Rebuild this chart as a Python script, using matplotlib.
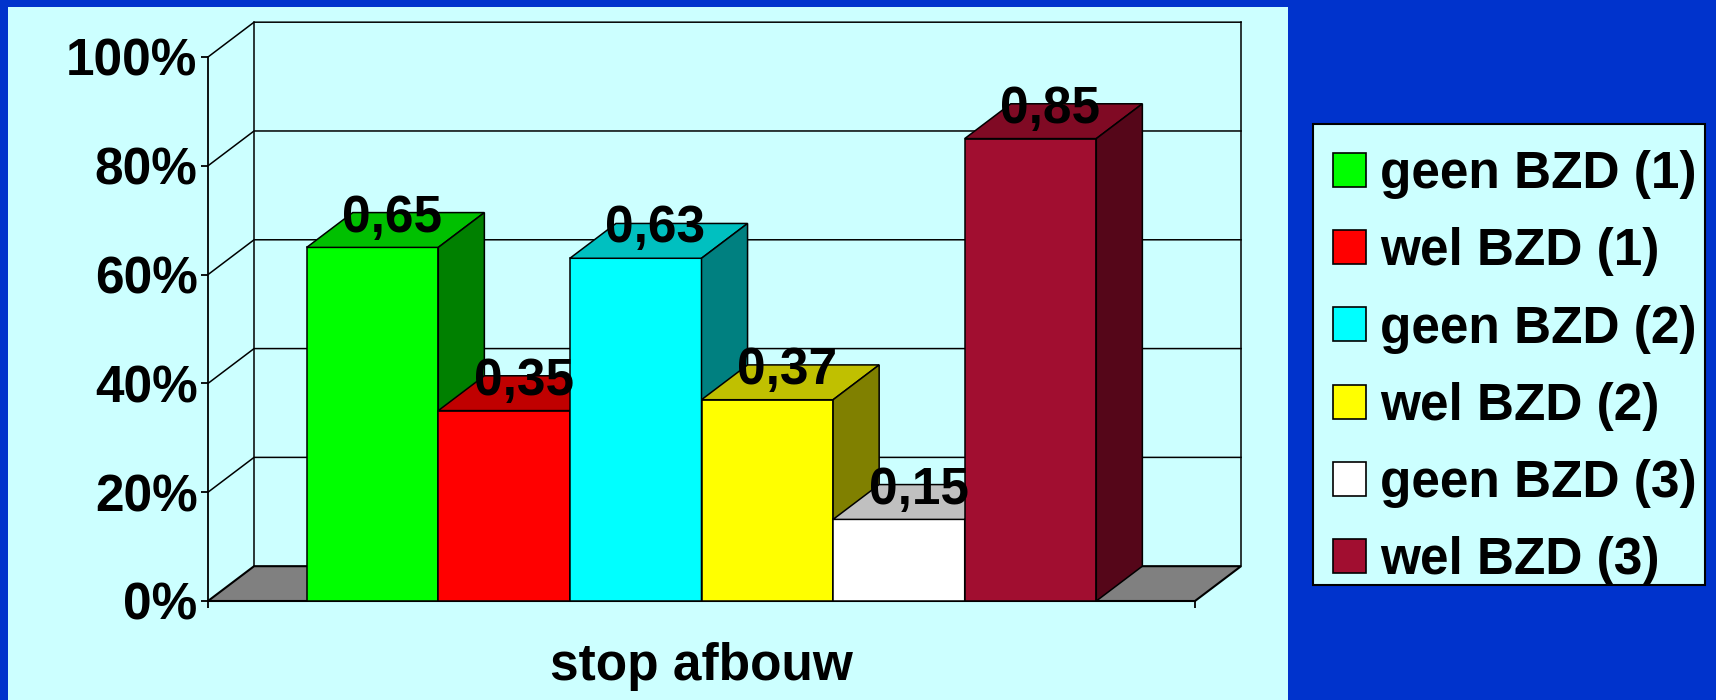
import matplotlib
matplotlib.use('Agg')
import matplotlib.pyplot as plt
from matplotlib.patches import Polygon, Rectangle, Patch

# ---- data ----
category_label = 'stop afbouw'
series = ['geen BZD (1)', 'wel BZD (1)', 'geen BZD (2)', 'wel BZD (2)',
          'geen BZD (3)', 'wel BZD (3)']
values = [0.65, 0.35, 0.63, 0.37, 0.15, 0.85]
value_labels = ['0,65', '0,35', '0,63', '0,37', '0,15', '0,85']
yticks = [0, 0.2, 0.4, 0.6, 0.8, 1.0]
ytick_labels = ['0%', '20%', '40%', '60%', '80%', '100%']

# ---- styles ----
front_colors = ['#00FF00', '#FF0000', '#00FFFF', '#FFFF00', '#FFFFFF', '#A10E30']
top_colors = ['#00C000', '#C00000', '#00C0C0', '#C0C000', '#C0C0C0', '#800A24']
side_colors = ['#008000', '#800000', '#008080', '#808000', '#808080', '#550619']
BLUE = '#0033CC'
PANEL = '#CCFFFF'
FS = 37

plt.rcParams['font.family'] = ['Liberation Sans', 'DejaVu Sans']
plt.rcParams['font.weight'] = 'bold'

W, H = 1716, 700
fig = plt.figure(figsize=(W / 100, H / 100), dpi=100)
fig.patch.set_facecolor(BLUE)
fig.patches.append(Rectangle((8 / W, 0), (1288 - 8) / W, (H - 7) / H,
                             transform=fig.transFigure, facecolor=PANEL,
                             edgecolor='none', zorder=-10))
# legend box
fig.patches.append(Rectangle((1313 / W, 1 - 585 / H), (1705 - 1313) / W, (585 - 124) / H,
                             transform=fig.transFigure, facecolor=PANEL,
                             edgecolor='black', lw=1.5, zorder=-5))

ax = fig.add_axes([208 / W, 99 / H, 987 / W, 544 / H])
ax.set_facecolor('none')
ax.set_zorder(1)
n = len(values)
x0, x1 = -0.75, n + 0.75
ax.set_xlim(x0, x1)
ax.set_ylim(0, 1)
DX, DY = 0.35, 0.064
LW = 1.1

# floor
ax.add_patch(Polygon([(x0, 0), (x1, 0), (x1 + DX, DY), (x0 + DX, DY)],
                     closed=True, facecolor='#808080', edgecolor='black',
                     lw=1.5, clip_on=False, zorder=1))
# walls & gridlines
for y in yticks[1:]:
    ax.plot([x0, x0 + DX, x1 + DX], [y, y + DY, y + DY], color='black',
            lw=LW, clip_on=False, zorder=1)
ax.plot([x0 + DX, x0 + DX], [DY, 1 + DY], color='black', lw=LW, clip_on=False, zorder=1)
ax.plot([x1 + DX, x1 + DX], [DY, 1 + DY], color='black', lw=LW, clip_on=False, zorder=1)

# bars
for i, v in enumerate(values):
    z = 3 + i
    ax.add_patch(Rectangle((i, 0), 1, v, facecolor=front_colors[i],
                           edgecolor='black', lw=LW, clip_on=False, zorder=z))
    ax.add_patch(Polygon([(i, v), (i + 1, v), (i + 1 + DX, v + DY), (i + DX, v + DY)],
                         closed=True, facecolor=top_colors[i], edgecolor='black',
                         lw=LW, clip_on=False, zorder=z))
    ax.add_patch(Polygon([(i + 1, 0), (i + 1 + DX, DY), (i + 1 + DX, v + DY), (i + 1, v)],
                         closed=True, facecolor=side_colors[i], edgecolor='black',
                         lw=LW, clip_on=False, zorder=z))

for i, (v, lbl) in enumerate(zip(values, value_labels)):
    ax.annotate(lbl, xy=(i + 0.65, v + DY), xytext=(0, -13.7),
                textcoords='offset points', ha='center', va='baseline',
                fontsize=FS, fontweight='bold', zorder=20, annotation_clip=False)

# axes
for s in ['top', 'right']:
    ax.spines[s].set_visible(False)
for s in ['left', 'bottom']:
    ax.spines[s].set_linewidth(1.3)
    ax.spines[s].set_zorder(2)
ax.set_yticks(yticks, ytick_labels)
ax.tick_params(axis='y', length=5, width=1.3, pad=2.5, labelsize=FS)
ax.set_xticks([x0, x1], ['', ''])
ax.tick_params(axis='x', length=5, width=1.3)
ax.set_xlabel(category_label, fontsize=FS, fontweight='bold', labelpad=21)

handles = [Patch(facecolor=c, edgecolor='black', lw=1.2) for c in front_colors]
leg = fig.legend(handles, series, loc='upper left',
                 bbox_to_anchor=(1333 / W, 1 - 150 / H), bbox_transform=fig.transFigure,
                 frameon=False, fontsize=FS, handlelength=0.64, handleheight=0.64,
                 handletextpad=0.28, borderpad=0, labelspacing=0.55,
                 borderaxespad=0)

fig.savefig('out.png', dpi=100, facecolor=BLUE)
